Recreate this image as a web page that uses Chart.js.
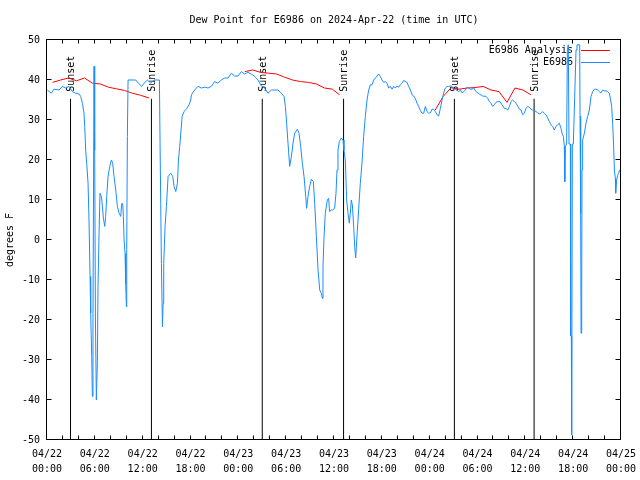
<!DOCTYPE html>
<html>
<head>
<meta charset="utf-8">
<title>Dew Point for E6986</title>
<script src="https://cdn.jsdelivr.net/npm/chart.js@4.4.1/dist/chart.umd.min.js"></script>
<style>
  html, body { margin: 0; padding: 0; background: #fff; }
</style>
</head>
<body>
<canvas id="dewpt" width="640" height="480"></canvas>
<script>
// all times are hours after 04/22 00:00 UTC
const obsHours = [
    0.04, 0.54, 0.88, 1.51, 1.92, 2.34, 2.76, 3.18, 3.60, 4.02, 4.23, 4.44, 4.64, 4.73, 4.85, 4.98,
    5.15, 5.27, 5.40, 5.48, 5.61, 5.69, 5.77, 5.90, 5.98, 6.07, 6.19, 6.32, 6.40, 6.53, 6.65, 6.82,
    6.95, 7.07, 7.24, 7.36, 7.49, 7.66, 7.87, 8.08, 8.24, 8.41, 8.62, 8.83, 9.04, 9.25, 9.37, 9.50,
    9.58, 9.67, 9.79, 9.87, 9.96, 10.0, 10.08, 10.17, 11.13, 11.46, 11.88, 12.18, 12.59, 13.01, 13.43, 14.10,
    14.18, 14.35, 14.48, 14.56, 14.64, 14.81, 14.98, 15.19, 15.52, 15.77, 15.94, 16.15, 16.36, 16.49, 16.65, 16.78,
    16.95, 17.20, 17.53, 17.82, 18.03, 18.11, 18.52, 18.94, 19.36, 19.78, 20.20, 20.61, 21.03, 21.45, 21.87, 22.29,
    22.70, 23.12, 23.54, 23.96, 24.38, 24.79, 25.21, 25.63, 26.05, 26.47, 26.88, 27.30, 27.72, 28.14, 28.56, 28.97,
    29.39, 29.73, 29.90, 30.06, 30.23, 30.44, 30.65, 30.86, 31.07, 31.40, 31.61, 31.82, 32.03, 32.24, 32.45, 32.57,
    32.74, 32.95, 33.16, 33.41, 33.58, 33.79, 34.00, 34.21, 34.41, 34.54, 34.62, 34.75, 34.91, 35.16, 35.33, 35.45,
    35.66, 35.80, 36.08, 36.25, 36.38, 36.50, 36.67, 36.92, 37.13, 37.25, 37.42, 37.59, 37.76, 37.92, 38.05, 38.17,
    38.30, 38.47, 38.59, 38.72, 38.88, 39.09, 39.30, 39.51, 39.72, 39.93, 40.14, 40.35, 40.56, 40.77, 40.98, 41.19,
    41.40, 41.60, 41.81, 42.02, 42.23, 42.44, 42.65, 42.86, 43.07, 43.28, 43.49, 43.69, 43.90, 44.11, 44.32, 44.53,
    44.74, 44.95, 45.16, 45.37, 45.58, 45.79, 46.00, 46.20, 46.41, 46.62, 46.83, 47.04, 47.25, 47.46, 47.67, 47.88,
    48.09, 48.30, 48.51, 48.72, 48.92, 49.13, 49.34, 49.55, 49.76, 49.97, 50.18, 50.39, 50.60, 50.81, 51.02, 51.23,
    51.43, 51.64, 51.85, 52.06, 52.27, 52.48, 52.69, 52.90, 53.10, 53.31, 53.52, 53.81, 54.23, 54.65, 55.07, 55.28,
    55.49, 55.69, 55.90, 56.11, 56.32, 56.53, 56.82, 57.08, 57.37, 57.58, 57.79, 58.00, 58.20, 58.41, 58.62, 58.83,
    59.04, 59.25, 59.46, 59.67, 59.88, 60.08, 60.29, 60.50, 60.71, 60.92, 61.13, 61.34, 61.55, 61.76, 61.97, 62.17,
    62.38, 62.59, 62.80, 63.01, 63.22, 63.43, 63.63, 63.84, 64.05, 64.26, 64.48, 64.60, 64.77, 64.89, 64.93, 64.97,
    65.02, 65.18, 65.27, 65.39, 65.48, 65.65, 65.69, 65.77, 65.81, 65.90, 66.02, 66.36, 66.48, 66.82, 66.86, 66.94,
    66.99, 67.07, 67.11, 67.19, 67.41, 67.61, 67.82, 68.03, 68.24, 68.45, 68.66, 68.86, 69.07, 69.28, 69.49, 69.70,
    69.91, 70.12, 70.33, 70.54, 70.66, 70.83, 70.96, 71.08, 71.17, 71.29, 71.33, 71.46, 71.58, 71.71, 71.83
]
const obsDewpt = [
    37.5, 36.7, 37.7, 37.5, 38.4, 38.0, 38.4, 37.1, 36.7, 36.5, 35.9, 34.2, 31.7, 28.4, 22.5, 19.2,
    14.2, 5.0, -9.1, -18.3, -29.1, -39.1, -18.3, 43.4, 22.5, -19.0, -40.0, -30.4, -11.6, 1.7, 11.7, 10.9,
    8.4, 5.5, 3.4, 5.9, 10.9, 15.9, 18.4, 20.0, 19.2, 15.9, 12.5, 8.4, 6.7, 5.9, 9.1, 9.1,
    5.9, 0.0, -3.4, -10.9, -16.7, -2.4, 25.9, 40.0, 40.0, 39.2, 38.4, 39.2, 40.0, 39.2, 40.0, 40.0,
    24.6, -5.9, -21.7, -15.9, -5.9, 3.4, 8.4, 15.9, 16.7, 15.9, 13.4, 12.1, 14.2, 20.0, 23.4, 26.7,
    30.9, 32.1, 32.9, 33.8, 35.0, 36.3, 37.5, 38.4, 38.0, 38.2, 38.0, 38.4, 39.6, 39.2, 40.0, 40.5,
    40.5, 41.7, 41.0, 41.0, 42.1, 41.5, 41.9, 41.5, 40.9, 40.0, 38.5, 38.0, 36.7, 37.5, 37.5, 37.5,
    36.7, 35.9, 33.4, 29.2, 24.2, 18.4, 20.8, 24.2, 26.7, 27.7, 26.7, 23.4, 19.2, 15.9, 10.9, 7.9,
    10.9, 13.4, 15.2, 14.6, 9.1, 0.8, -7.5, -12.5, -13.3, -14.6, -6.7, 0.8, 6.7, 10.0, 10.4, 7.1,
    7.5, 7.5, 7.9, 11.7, 17.5, 22.5, 24.6, 25.5, 25.0, 22.5, 20.0, 10.0, 6.7, 4.2, 6.7, 10.0,
    8.8, 3.4, -1.6, -4.5, 0.8, 7.5, 14.2, 19.2, 25.9, 30.9, 35.0, 37.5, 38.8, 38.8, 40.0, 40.5,
    41.0, 41.5, 40.9, 40.0, 39.4, 39.6, 39.2, 38.0, 38.4, 37.7, 38.4, 38.0, 38.5, 38.2, 38.8, 39.2,
    39.9, 39.6, 39.4, 38.4, 37.5, 36.3, 36.0, 35.4, 34.2, 33.4, 32.4, 31.7, 31.7, 33.4, 32.1, 31.7,
    31.8, 32.7, 32.7, 32.1, 31.3, 31.0, 32.9, 35.0, 36.8, 38.0, 38.4, 38.4, 38.5, 38.4, 37.5, 37.7,
    37.5, 37.1, 37.5, 36.8, 37.1, 37.5, 38.2, 38.0, 37.7, 37.7, 38.0, 37.1, 36.5, 36.0, 35.9, 35.4,
    34.6, 34.2, 33.4, 33.8, 34.4, 34.6, 34.6, 33.8, 32.9, 32.9, 32.5, 33.4, 34.6, 35.0, 34.6, 34.2,
    33.5, 32.7, 32.5, 31.3, 31.7, 32.9, 33.4, 33.2, 32.7, 32.5, 32.4, 32.1, 31.8, 31.5, 31.7, 32.1,
    31.7, 31.3, 30.5, 29.6, 28.8, 28.4, 27.5, 28.4, 28.8, 29.2, 27.9, 26.7, 25.9, 23.4, 17.5, 14.6,
    23.4, 24.0, 47.5, 48.8, 24.0, 24.0, -24.0, -24.0, -48.7, 24.0, 24.0, 47.5, 48.8, 48.8, 31.0, 6.7,
    -23.3, -13.3, 17.5, 25.0, 26.7, 29.2, 30.9, 32.5, 35.9, 37.1, 37.7, 37.7, 37.5, 37.1, 36.8, 37.5,
    37.3, 37.3, 37.1, 36.7, 35.4, 33.4, 28.8, 23.4, 17.5, 15.4, 11.7, 15.0, 16.2, 16.7, 17.5
]
// hourly analysis, null = no analysis
const anlHours = [
    0.7, 1.7, 2.7, 3.7, 4.7, 5.7, 6.7, 7.7, 8.7, 9.7, 10.7, 11.7, 12.8, 18,
    24.8, 25.8, 26.8, 27.8, 28.8, 29.8, 30.8, 31.8, 32.8, 33.8, 34.8, 35.8, 36.7, 42,
    48.7, 49.7, 50.7, 51.7, 52.7, 53.7, 54.7, 55.7, 56.7, 57.7, 58.7, 59.7, 60.7
]
const anlDewpt = [
    39.4, 40.0, 40.5, 39.8, 40.5, 39.2, 39.0, 38.2, 37.8, 37.4, 36.7, 36.2, 35.5, null,
    42.1, 42.5, 41.9, 41.7, 41.5, 40.7, 40.0, 39.6, 39.4, 39.0, 38.0, 37.7, 36.3, null,
    32.5, 35.9, 38.1, 37.7, 38.0, 38.1, 38.4, 37.5, 37.1, 34.4, 38.0, 37.5, 36.3
]
const sunsetHours = [2.95, 27.0, 51.1]
const sunriseHours = [13.1, 37.2, 61.1]
const sunLineTop = 35.3
const dayLabels = ['04/22', '04/23', '04/24', '04/25']

const monoFont = "'DejaVu Sans Mono', 'Liberation Mono', monospace"
Chart.defaults.font.family = monoFont
Chart.defaults.font.size = 10
Chart.defaults.color = '#000'

const toPoints = (xs, ys) => xs.map((x, i) => ({x: x, y: ys[i]}))

const sunLine = (h) => ({
    label: '',
    data: [{x: h, y: -50}, {x: h, y: sunLineTop}],
    borderColor: '#000',
    borderWidth: 1,
    pointRadius: 0,
    order: 3,
    sunLabel: true
})

let datasets = [
    {
        label: 'E6986 Analysis',
        data: toPoints(anlHours, anlDewpt),
        borderColor: '#ff0000',
        borderWidth: 1,
        pointRadius: 0,
        order: 2
    },
    {
        label: 'E6986',
        data: toPoints(obsHours, obsDewpt),
        borderColor: '#1a8cff',
        borderWidth: 1,
        pointRadius: 0,
        order: 1
    }
]
sunsetHours.forEach(h => datasets.push(Object.assign(sunLine(h), {label: 'Sunset'})))
sunriseHours.forEach(h => datasets.push(Object.assign(sunLine(h), {label: 'Sunrise'})))

// gnuplot style frame, inward ticks, key and sun labels
const gnuFrame = {
    id: 'gnuFrame',
    beforeDatasetsDraw: (chart) => {
        const ctx = chart.ctx, xs = chart.scales.x, ys = chart.scales.y
        ctx.save()
        ctx.font = '10px ' + monoFont
        ctx.fillStyle = '#000'

        // sunrise / sunset labels
        chart.data.datasets.forEach(ds => {
            if (!ds.sunLabel) return
            const px = xs.getPixelForValue(ds.data[0].x)
            const py = ys.getPixelForValue(sunLineTop) - 7
            ctx.save()
            ctx.translate(px + 1, py)
            ctx.rotate(-Math.PI / 2)
            ctx.textAlign = 'left'
            ctx.textBaseline = 'middle'
            ctx.fillText(ds.label, 0, 0)
            ctx.restore()
        })

        // key
        const area = chart.chartArea
        const keyItems = chart.data.datasets.filter(ds => !ds.sunLabel)
        keyItems.forEach((ds, i) => {
            const ky = area.top + 10 + i * 12
            ctx.textAlign = 'right'
            ctx.textBaseline = 'middle'
            ctx.fillText(ds.label, area.right - 48, ky)
            ctx.strokeStyle = ds.borderColor
            ctx.lineWidth = 1
            ctx.beginPath()
            ctx.moveTo(area.right - 40, Math.round(ky) + 0.5)
            ctx.lineTo(area.right - 11, Math.round(ky) + 0.5)
            ctx.stroke()
        })
        ctx.restore()
    },
    afterDraw: (chart) => {
        const ctx = chart.ctx, xs = chart.scales.x, ys = chart.scales.y
        const a = chart.chartArea
        const l = Math.round(a.left) - 0.5, r = Math.round(a.right) - 0.5
        const t = Math.round(a.top) - 0.5, b = Math.round(a.bottom) - 0.5
        ctx.save()
        ctx.strokeStyle = '#000'
        ctx.lineWidth = 1
        ctx.beginPath()
        for (let v = -50; v <= 50; v += 10) {
            const py = Math.round(ys.getPixelForValue(v)) - 0.5
            ctx.moveTo(l, py); ctx.lineTo(l + 5, py)
            ctx.moveTo(r, py); ctx.lineTo(r - 5, py)
        }
        for (let h = 0; h <= 72; h += 2) {
            const px = Math.round(xs.getPixelForValue(h)) - 0.5
            ctx.moveTo(px, b); ctx.lineTo(px, b - 4)
            ctx.moveTo(px, t); ctx.lineTo(px, t + 4)
        }
        ctx.stroke()
        ctx.strokeRect(l, t, r - l, b - t)
        ctx.restore()
    }
}

new Chart(document.getElementById('dewpt'), {
    type: 'line',
    data: {datasets},
    plugins: [gnuFrame],
    options: {
        responsive: false,
        animation: false,
        devicePixelRatio: 1,
        layout: {padding: {right: 19, left: 0, top: 0, bottom: 0}},
        plugins: {
            legend: {display: false},
            tooltip: {enabled: false},
            title: {
                display: true,
                fullSize: false,
                text: 'Dew Point for E6986 on 2024-Apr-22 (time in UTC)',
                font: {family: monoFont, size: 10, weight: 'normal'},
                color: '#000',
                padding: {top: 14, bottom: 14}
            }
        },
        scales: {
            x: {
                type: 'linear',
                min: 0,
                max: 72,
                grid: {display: false, drawTicks: false},
                border: {display: false},
                afterFit: (scale) => {
                    scale.height = 40
                    scale.paddingLeft = 0
                    scale.paddingRight = 0
                },
                ticks: {
                    stepSize: 6,
                    autoSkip: false,
                    maxRotation: 0,
                    padding: 7,
                    font: {family: monoFont, size: 10, lineHeight: 1.5},
                    callback: (v) => {
                        const hh = v % 24
                        return [dayLabels[Math.floor(v / 24)], (hh < 10 ? '0' : '') + hh + ':00']
                    }
                }
            },
            y: {
                min: -50,
                max: 50,
                grid: {display: false, drawTicks: false},
                border: {display: false},
                afterFit: (scale) => { scale.width = 47 },
                ticks: {stepSize: 10, padding: 7},
                title: {
                    display: true,
                    text: 'degrees F',
                    font: {family: monoFont, size: 10},
                    padding: {top: 4, bottom: 0}
                }
            }
        }
    }
})
</script>
</body>
</html>
